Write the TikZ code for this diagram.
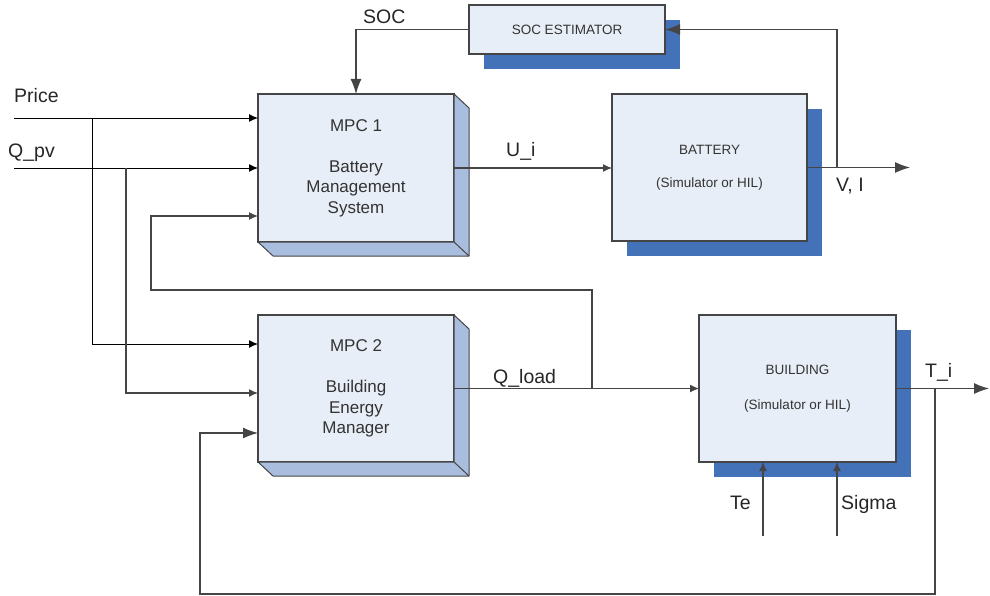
\documentclass[tikz,border=0pt]{standalone}
\usepackage{fontspec}
\setmainfont{Liberation Sans}
\usetikzlibrary{arrows.meta,shadows,calc}
\definecolor{face}{HTML}{E8EEF7}
\definecolor{side}{HTML}{A9BEDE}
\definecolor{shade}{HTML}{4472B9}
\definecolor{edge}{HTML}{454545}
\begin{document}
\begin{tikzpicture}[x=1pt,y=-1pt,
  box/.style={draw=edge, line width=1.3pt, fill=face, anchor=north west,
    inner sep=0pt, outer sep=0pt, align=center, text=black!80},
  shbox/.style={box, drop shadow={shadow xshift=15pt, shadow yshift=-15pt, fill=shade, opacity=1}},
  bigtxt/.style={font=\fontsize{17}{20.5}\selectfont},
  smalltxt/.style={font=\fontsize{13.5}{16}\selectfont},
  lbl/.style={font=\fontsize{19.5}{23}\selectfont, text=black!85, inner sep=0pt, anchor=base west},
  wire/.style={draw=edge, line width=1.2pt},
  sarr/.style={wire, -{Latex[length=9pt,width=8pt]}},
  barr/.style={wire, -{Latex[length=15pt,width=11pt]}},
  inarr/.style={sarr, draw=black, line width=0.9pt}
]
\useasboundingbox (0,0) rectangle (990,596);

% blocks
\node[box, bigtxt, minimum width=196pt, minimum height=148pt] (m1) at (258,94)
  {MPC 1\\[20.5pt]Battery\\Management\\System};
\node[box, bigtxt, minimum width=196pt, minimum height=147pt] (m2) at (258,315)
  {MPC 2\\[20.5pt]Building\\Energy\\Manager};
\foreach \n in {m1,m2}{
  \filldraw[fill=side, draw=edge, line width=1pt, line join=round]
    (\n.north east) -- ++(15,14) -- ($(\n.south east)+(15,14)$) -- ($(\n.south west)+(15,14)$)
    -- (\n.south west) -- (\n.south east) -- cycle;
  \draw[edge, line width=1pt] (\n.south east) -- ++(15,14);
}
\node[shbox, smalltxt, minimum width=195pt, minimum height=147pt] (bat) at (612,94)
  {BATTERY\\[17pt](Simulator or HIL)};
\node[shbox, smalltxt, minimum width=197pt, minimum height=147pt] (bld) at (699,315)
  {BUILDING\\[19pt](Simulator or HIL)};
\node[shbox, smalltxt, minimum width=196pt, minimum height=49pt] (soc) at (469,5)
  {SOC ESTIMATOR};

% coordinates
\coordinate (pin) at (14,118);
\coordinate (qin) at (14,168);
\coordinate (pb) at (92,118);
\coordinate (qb) at (126,168);
\coordinate (m2p) at (258,344);
\coordinate (m2q) at (258,393);
\coordinate (m2t) at (258,433);
\coordinate (m1c) at (258,216);
\coordinate (qlb) at (592,388.5);
\coordinate (fb1) at (151,290);
\coordinate (vb) at (837,167.5);
\coordinate (viout) at (910,167.5);
\coordinate (tout) at (989,388.5);
\coordinate (tb) at (935,388.5);
\coordinate (fb2) at (200,594);
\coordinate (te) at (763,536);
\coordinate (sg) at (837,536);

% connectors
\draw[inarr] (pin) -- (pin -| m1.west);
\draw[inarr] (qin) -- (qin -| m1.west);
\draw[inarr] (pb) |- (m2p);
\draw[sarr] (qb) |- (m2q);
\draw[sarr] (m1.east) -- (m1.east -| bat.west);
\draw[barr] (bat.east) -- (viout);
\draw[barr] (vb) |- (soc.east);
\draw[barr] (soc.west) -| (m1.north);
\draw[sarr] (m2.east) -- (m2.east -| bld.west);
\draw[sarr] (qlb) |- (fb1) |- (m1c);
\draw[barr] (bld.east) -- (tout);
\draw[barr] (tb) |- (fb2) |- (m2t);
\draw[sarr] (te) -- (te |- bld.south);
\draw[sarr] (sg) -- (sg |- bld.south);

% labels
\node[lbl] (lprice) at (14,103) {Price};
\node[lbl] (lqpv) at (8,158) {Q\_pv};
\node[lbl] (lsoc) at (363,24) {SOC};
\node[lbl] (lui) at (506,157) {U\_i};
\node[lbl] (lvi) at (836,192) {V, I};
\node[lbl] (lql) at (493,383) {Q\_load};
\node[lbl] (lti) at (925,377) {T\_i};
\node[lbl] (lte) at (730,509) {Te};
\node[lbl] (lsg) at (841,509) {Sigma};
\end{tikzpicture}
\end{document}
